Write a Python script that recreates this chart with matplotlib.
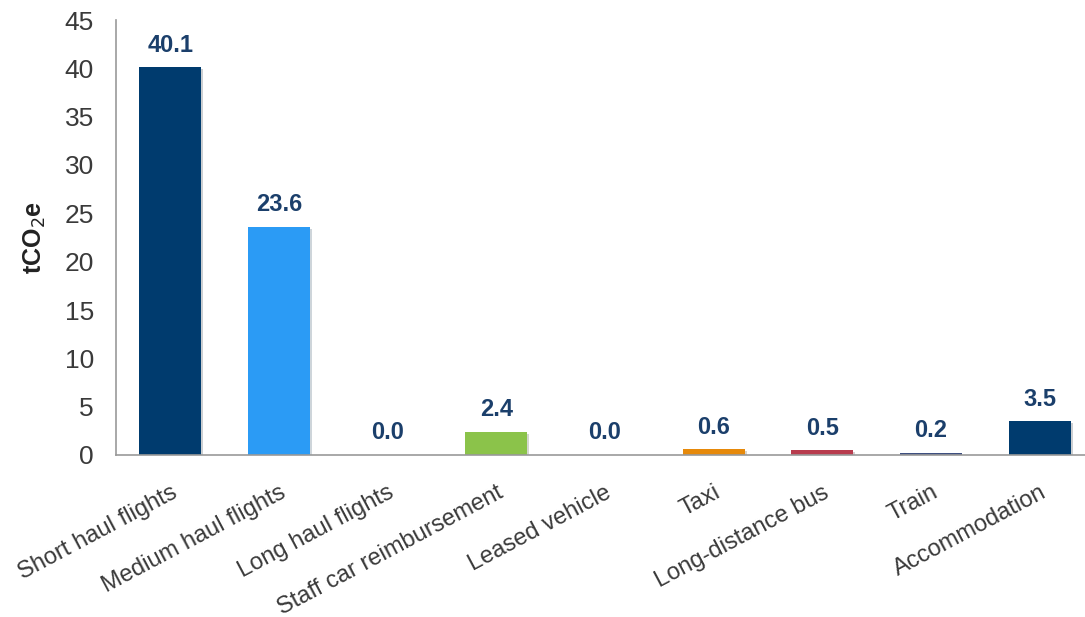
import matplotlib.pyplot as plt
import matplotlib.patheffects as pe

categories = ["Short haul flights", "Medium haul flights", "Long haul flights",
              "Staff car reimbursement", "Leased vehicle", "Taxi",
              "Long-distance bus", "Train", "Accommodation"]
values = [40.1, 23.6, 0.0, 2.4, 0.0, 0.6, 0.5, 0.2, 3.5]
colors = ["#003B6E", "#2B9BF5", "#1F4E8C", "#8BC34A", "#C9A03E",
          "#E6890A", "#B83C4E", "#3E4F80", "#003B6E"]

plt.rcParams['font.family'] = ['Liberation Sans', 'DejaVu Sans']

fig = plt.figure(figsize=(10.85, 6.17), dpi=100)
ax = fig.add_axes([116 / 1085, 1 - 455 / 617, (1094 - 116) / 1085, 435 / 617])

x = range(len(categories))
bars = ax.bar(x, values, width=0.57, color=colors, zorder=2)
for b in bars:
    b.set_path_effects([pe.SimplePatchShadow(offset=(1.5, -1.5), alpha=0.2), pe.Normal()])

for xi, v in zip(x, values):
    ax.text(xi, v + 1.1, f"{v:.1f}", ha='center', va='bottom',
            fontsize=17, fontweight='bold', color='#1B3F6B')

ax.set_xlim(-0.5, len(categories) - 0.5)
ax.set_ylim(0, 45)
ax.set_yticks(range(0, 46, 5))
ax.tick_params(axis='y', length=0, pad=16, labelsize=19, labelcolor='#3a3a3a')
ax.tick_params(axis='x', length=0, pad=19, labelsize=17, labelcolor='#3a3a3a')
ax.set_xticks(list(x))
ax.set_xticklabels(categories, rotation=28, ha='right', rotation_mode='anchor')

ax.set_ylabel("tCO$_2$e", fontsize=18, fontweight='bold', color='#222222', labelpad=12)

for s in ['top', 'right']:
    ax.spines[s].set_visible(False)
for s in ['left', 'bottom']:
    ax.spines[s].set_color('#999999')
    ax.spines[s].set_linewidth(1.2)

fig.savefig("out.png", dpi=100)
